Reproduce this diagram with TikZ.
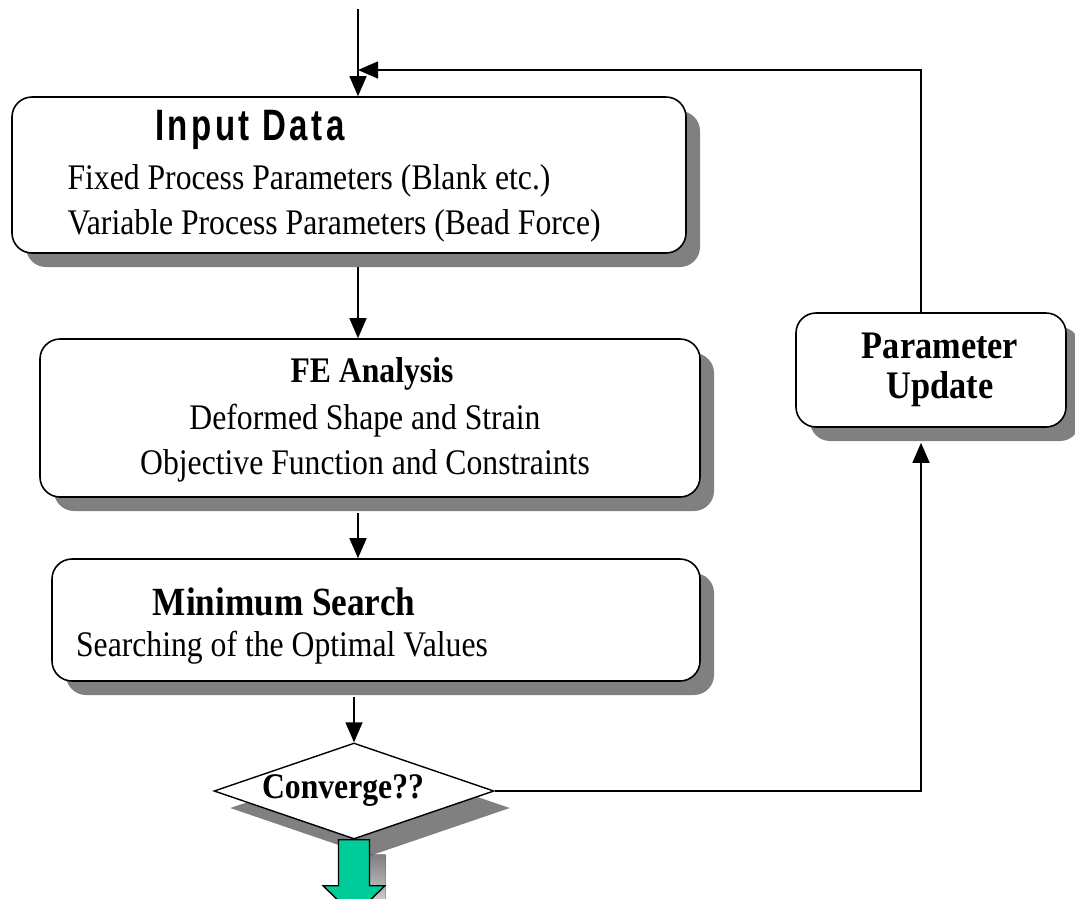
\documentclass[tikz,border=0pt]{standalone}
\usepackage{fontspec}
\setmainfont[FakeStretch=0.88]{Liberation Serif}
\newfontfamily\headfont[FakeStretch=0.75,LetterSpace=8]{Liberation Sans}
\usepackage{tikz}
\usetikzlibrary{arrows.meta,positioning,calc,shapes.geometric,shadows}
\definecolor{shade}{RGB}{128,128,128}
\definecolor{exitgreen}{RGB}{0,204,153}

\tikzset{
  stage/.style={draw,line width=1.6pt,rounded corners=20pt,fill=white,inner sep=0pt,
    drop shadow={shadow xshift=14pt,shadow yshift=-14pt,fill=shade,opacity=1}},
  decision/.style={diamond,aspect=2.92,draw,line width=1.4pt,fill=white,inner sep=0pt,
    minimum width=280,minimum height=96,
    drop shadow={shadow xshift=16pt,shadow yshift=-17pt,fill=shade,opacity=1}},
  flow/.style={line width=1.4pt,-{Triangle[length=20pt,width=17pt]}},
  body/.style={font=\fontsize{36}{45}\selectfont},
  head/.style={font=\fontsize{36}{40}\selectfont\bfseries},
}

\begin{document}
\begin{tikzpicture}[x=1pt,y=-1pt]
\useasboundingbox (0,0) rectangle (1075,898);
% boxes
\node[stage,minimum width=674,minimum height=156] (inp) at (349,175) {};
\node[stage,minimum width=660,minimum height=158] (fe) at (370,418) {};
\node[stage,minimum width=648,minimum height=122] (min) at (376,620) {};
\node[stage,minimum width=270,minimum height=114] (upd) at (931,370) {};
\node[decision] (dec) at (354,791) {};
% texts
\node[font=\headfont\bfseries\fontsize{44}{46}\selectfont] (inpHead) at (250,130) {Input Data};
\node[body,align=left,anchor=west] (inpBody) at (64,203)
  {Fixed Process Parameters (Blank etc.)\\Variable Process Parameters (Bead Force)};
\node[head] (feHead) at (372,374) {FE Analysis};
\node[body,align=center] (feBody) at (365,443)
  {Deformed Shape and Strain\\Objective Function and Constraints};
\node[head,font=\fontsize{40}{44}\selectfont\bfseries] (minHead) at (284,602) {Minimum Search};
\node[body] (minBody) at (282,648) {Searching of the Optimal Values};
\node[head,align=center,font=\fontsize{39}{40}\selectfont\bfseries] (updText) at (940,370) {Parameter\\Update};
\node[head] (decText) at (343,791) {Converge??};
% connectors
\coordinate (col) at (358,0);
\coordinate (entry) at (358,9);
\coordinate (merge) at (358,70);
\coordinate (fbx) at (921,0);
\draw[flow] (entry) -- (inp.north -| col);
\draw[flow] (upd.north -| fbx) |- (merge);
\draw[flow] ($(inp.south -| col)+(0,13)$) -- (fe.north -| col);
\draw[flow] ($(fe.south -| col)+(0,15)$) -- (min.north -| col);
\draw[flow] ($(min.south -| dec.north)+(0,15)$) -- (dec.north);
\draw[flow] (dec.east) -| ($(upd.south -| fbx)+(0,15)$);
% exit arrow
\fill[shade] ($(dec.south)+(16,15)$) ++(-15.5,0) -- ++(31,0) -- ++(0,46) -- ++(15.5,0)
  -- ++(-31,30) -- ++(-31,-30) -- ++(15.5,0) -- cycle;
\draw[line width=1.4pt,fill=exitgreen] (dec.south) ++(-15.5,0) -- ++(31,0) -- ++(0,46)
  -- ++(15.5,0) -- ++(-31,30) -- ++(-31,-30) -- ++(15.5,0) -- cycle;
\end{tikzpicture}
\end{document}
